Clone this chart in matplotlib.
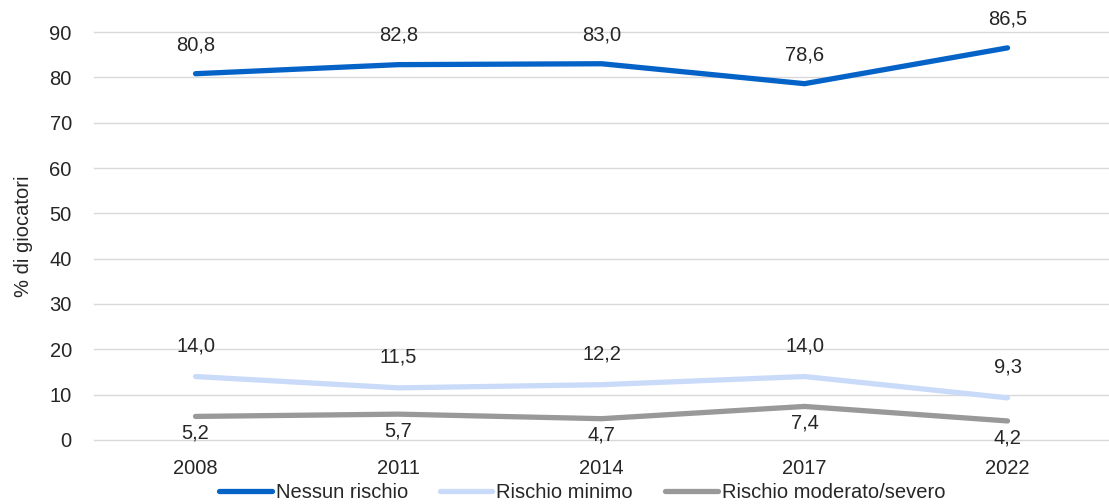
import matplotlib
matplotlib.use("Agg")
import matplotlib.pyplot as plt

years = ["2008", "2011", "2014", "2017", "2022"]
nessun = [80.8, 82.8, 83.0, 78.6, 86.5]
minimo = [14.0, 11.5, 12.2, 14.0, 9.3]
moderato = [5.2, 5.7, 4.7, 7.4, 4.2]

series = [
    ("Nessun rischio", nessun, "#0563C8", 21),
    ("Rischio minimo", minimo, "#C9DBF8", 22),
    ("Rischio moderato/severo", moderato, "#999999", -12),
]

plt.rcParams["font.family"] = ["Liberation Sans", "DejaVu Sans"]
FS = 14.5
TXT = "#262626"

fig = plt.figure(figsize=(11.09, 5.04), dpi=100)
ax = fig.add_axes([0.0848, 0.127, 0.9152, 0.8095])
x = range(len(years))
for name, vals, col, dy in series:
    ax.plot(x, vals, color=col, lw=3.8, label=name, solid_capstyle="round")
    for xi, v in zip(x, vals):
        ax.annotate(f"{v:.1f}".replace(".", ","), (xi, v), xytext=(0, dy),
                    textcoords="offset points", ha="center", va="center",
                    fontsize=FS, color=TXT)

ax.set_xlim(-0.5, 4.5)
ax.set_ylim(0, 90)
ax.set_yticks(range(0, 91, 10))
ax.set_xticks(list(x))
ax.set_xticklabels(years)
ax.tick_params(length=0, labelsize=FS, labelcolor=TXT, pad=16)
ax.tick_params(axis="x", pad=14)
ax.grid(axis="y", color="#d9d9d9", lw=1)
for gl in ax.get_ygridlines():
    gl.set_clip_on(False)
ax.set_axisbelow(True)
for s in ax.spines.values():
    s.set_visible(False)
ax.set_ylabel("% di giocatori", fontsize=FS, color=TXT, labelpad=12)

fig.legend(loc="center", bbox_to_anchor=(0.525, 0.022), ncol=3, frameon=False,
           fontsize=FS, handlelength=2.6, handletextpad=0.2, columnspacing=1.6,
           labelcolor=TXT)

fig.savefig("out.png", dpi=100)
